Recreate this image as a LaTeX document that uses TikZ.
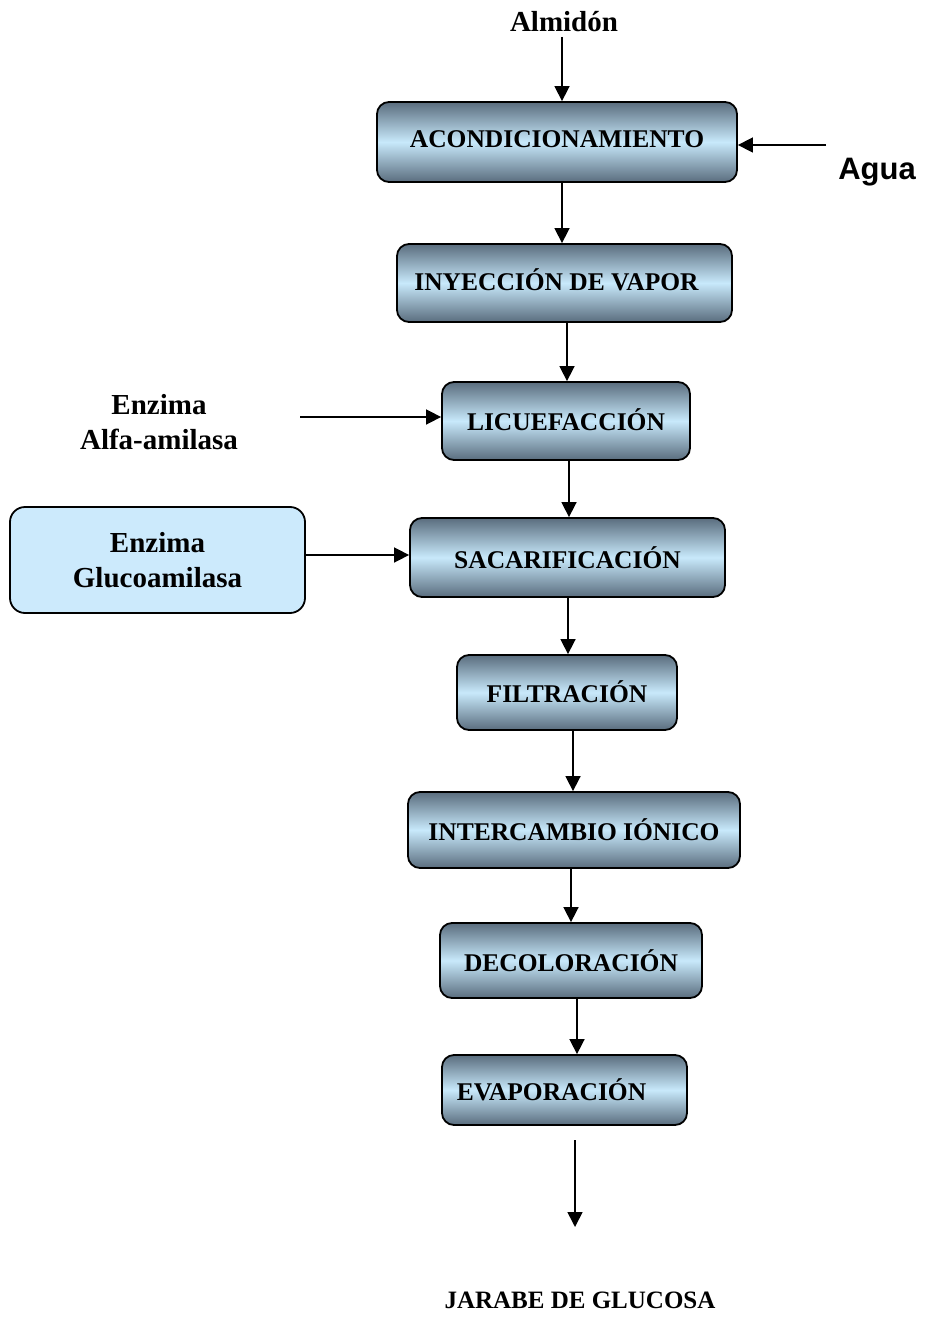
\documentclass[tikz,border=0pt]{standalone}
\usepackage{fontspec}
\setmainfont{Liberation Serif}
\newfontfamily\agafont{Liberation Sans}
\usetikzlibrary{arrows.meta,calc}
\definecolor{boxdark}{HTML}{5A6D7E}
\definecolor{boxlight}{HTML}{C8E9FB}
\definecolor{enzfill}{HTML}{CCEAFC}
\tikzset{
  procbox/.style={draw=black, line width=1.8pt, rounded corners=12pt,
    top color=boxdark, bottom color=boxdark, middle color=boxlight,
    font=\fontsize{25.5}{30}\selectfont\bfseries, inner sep=0pt},
  sidelabel/.style={font=\fontsize{29}{35}\selectfont\bfseries, align=center, inner sep=0pt},
  arr/.style={line width=1.6pt, -{Triangle[length=15pt,width=15pt]}}
}
\begin{document}
\begin{tikzpicture}[x=1pt,y=-1pt]
\useasboundingbox (0,0) rectangle (924,1321);
% process boxes
\node[procbox, minimum width=360pt, minimum height=80pt] (acond) at (557,142) {\raisebox{5pt}{ACONDICIONAMIENTO}};
\node[procbox, minimum width=335pt, minimum height=78pt] (inyec) at (564.5,283) {\raisebox{6pt}{\hspace*{-16pt}INYECCIÓN DE VAPOR}};
\node[procbox, minimum width=248pt, minimum height=78pt] (licue) at (566,421) {\raisebox{3pt}{LICUEFACCIÓN}};
\node[procbox, minimum width=315pt, minimum height=79pt] (sacar) at (567.5,557.5) {SACARIFICACIÓN};
\node[procbox, minimum width=220pt, minimum height=75pt] (filtr) at (567,692.5) {\raisebox{2pt}{FILTRACIÓN}};
\node[procbox, minimum width=332pt, minimum height=76pt] (inter) at (574,830) {INTERCAMBIO IÓNICO};
\node[procbox, minimum width=262pt, minimum height=75pt] (decol) at (571,960.5) {DECOLORACIÓN};
\node[procbox, minimum width=245pt, minimum height=70pt] (evap) at (564.5,1090) {\hspace*{-26pt}EVAPORACIÓN};
% inputs / outputs
\node[sidelabel] (almidon) at (564,22) {Almidón};
\node[font=\agafont\fontsize{31}{36}\selectfont\bfseries, inner sep=0pt] (agua) at (877,172) {Agua};
\coordinate (aguastart) at (826,145);
\node[sidelabel] (alfa) at (159,422) {Enzima\\Alfa-amilasa};
\coordinate (alfastart) at (300,417);
\node[sidelabel, draw=black, line width=1.8pt, rounded corners=15pt, fill=enzfill,
  minimum width=295pt, minimum height=106pt] (gluco) at (157.5,560) {Enzima\\Glucoamilasa};
\coordinate (outstart) at (575,1140);
\coordinate (outend) at (575,1227);
\node[font=\fontsize{25}{30}\selectfont\bfseries, inner sep=0pt] (jarabe) at (580,1300) {JARABE DE GLUCOSA};
% connectors
\draw[arr] ([xshift=-2pt]almidon.south |- 0,37) -- ([xshift=-2pt]almidon.south |- acond.north);
\draw[arr] (aguastart) -- (aguastart -| acond.east);
\draw[arr] ([xshift=5pt]acond.south) -- ([xshift=5pt]acond.south |- inyec.north);
\draw[arr] ([xshift=2.5pt]inyec.south) -- ([xshift=2.5pt]inyec.south |- licue.north);
\draw[arr] (alfastart) -- (alfastart -| licue.west);
\draw[arr] ([xshift=3pt]licue.south) -- ([xshift=3pt]licue.south |- sacar.north);
\draw[arr] (gluco.east |- 0,555) -- (sacar.west |- 0,555);
\draw[arr] ([xshift=0.5pt]sacar.south) -- ([xshift=0.5pt]sacar.south |- filtr.north);
\draw[arr] ([xshift=6pt]filtr.south) -- ([xshift=6pt]filtr.south |- inter.north);
\draw[arr] ([xshift=-3pt]inter.south) -- ([xshift=-3pt]inter.south |- decol.north);
\draw[arr] ([xshift=6pt]decol.south) -- ([xshift=6pt]decol.south |- evap.north);
\draw[arr] (outstart) -- (outend);
\end{tikzpicture}
\end{document}
